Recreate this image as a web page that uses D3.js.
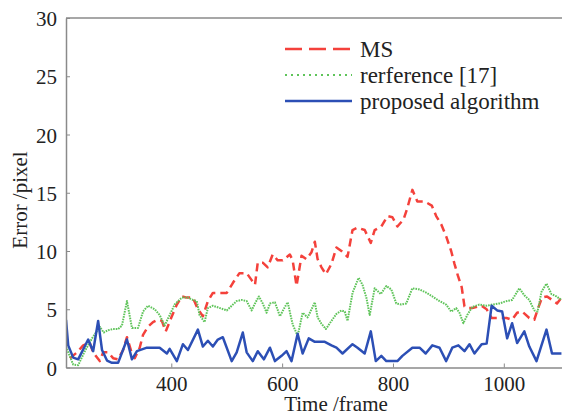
<!DOCTYPE html>
<html>
<head>
<meta charset="utf-8">
<script src="https://cdn.jsdelivr.net/npm/d3@7"></script>
<style>
  html, body { margin: 0; padding: 0; background: #fff; }
  svg { display: block; font-family: "Liberation Serif", "Times New Roman", serif; }
</style>
</head>
<body>
<div id="chart"></div>
<script>
// Series (frame, error in pixels)
const msFrames = [217, 230, 241, 253, 259, 271, 277, 286, 295, 304, 313, 320, 329, 334, 343, 349, 358, 367, 376, 383, 390, 401, 410, 419, 428, 439, 448, 457, 466, 475, 488, 500, 511, 523, 536, 545, 551, 556, 565, 574, 583, 592, 601, 614, 619, 626, 635, 644, 653, 659, 664, 671, 679, 689, 698, 707, 718, 727, 736, 749, 760, 767, 779, 790, 799, 808, 819, 826, 835, 844, 857, 870, 878, 887, 896, 905, 911, 917, 924, 929, 934, 943, 960, 969, 978, 992, 1005, 1015, 1024, 1033, 1046, 1055, 1062, 1069, 1078, 1087, 1096, 1104];
const msValues = [0.8, 1.3, 1.9, 2.1, 1.3, 0.55, 1.3, 1.3, 0.8, 0.7, 1.5, 2.6, 1.2, 0.8, 1.7, 2.8, 3.5, 3.9, 4.1, 4.0, 3.1, 4.4, 5.4, 6.1, 6.0, 6.0, 5.0, 4.4, 5.7, 6.4, 6.4, 6.4, 7.25, 8.1, 8.1, 7.5, 7.1, 9.0, 9.0, 8.6, 9.7, 9.2, 9.2, 9.7, 9.2, 7.0, 9.6, 9.3, 9.9, 10.8, 9.3, 8.6, 8.0, 8.9, 10.3, 10.0, 9.5, 11.8, 12.0, 11.8, 10.7, 11.8, 12.1, 13.0, 12.9, 12.1, 12.7, 13.7, 15.25, 14.25, 14.25, 13.9, 13.0, 12.3, 11.25, 10.0, 8.9, 7.9, 6.9, 5.25, 5.1, 5.1, 5.3, 5.0, 4.25, 4.25, 4.25, 4.1, 4.7, 4.8, 4.25, 4.1, 5.1, 6.0, 6.1, 5.8, 5.5, 6.0];

const refFrames = [210, 223, 232, 244, 257, 271, 278, 286, 295, 304, 311, 320, 329, 340, 349, 358, 370, 379, 388, 397, 406, 419, 430, 439, 446, 451, 460, 466, 475, 488, 500, 509, 518, 527, 536, 545, 551, 558, 565, 572, 578, 587, 596, 605, 610, 619, 628, 637, 646, 659, 664, 671, 679, 689, 698, 707, 713, 718, 727, 738, 745, 752, 758, 767, 778, 788, 797, 806, 815, 824, 835, 848, 861, 871, 884, 896, 905, 914, 920, 927, 934, 943, 956, 969, 979, 992, 1005, 1015, 1028, 1037, 1046, 1055, 1061, 1068, 1077, 1086, 1095, 1104];
const refValues = [1.8, 0.25, 0.2, 1.4, 2.5, 3.5, 3.0, 3.2, 3.3, 3.3, 3.6, 5.7, 3.4, 3.4, 4.8, 5.3, 5.0, 4.5, 3.6, 4.5, 5.4, 6.0, 6.0, 5.8, 5.7, 4.5, 3.9, 5.1, 5.3, 5.1, 4.9, 5.3, 5.7, 5.8, 5.7, 4.9, 5.5, 6.1, 5.5, 4.7, 5.5, 5.6, 4.4, 5.2, 5.6, 3.7, 2.7, 4.7, 4.3, 5.6, 4.3, 3.75, 3.3, 4.0, 4.6, 4.9, 4.8, 4.0, 6.4, 7.7, 7.1, 6.0, 4.5, 6.8, 6.3, 7.0, 6.7, 5.5, 5.4, 5.5, 6.8, 6.7, 6.4, 6.1, 5.7, 5.4, 4.8, 5.1, 4.7, 3.8, 4.5, 5.2, 5.4, 5.3, 5.4, 5.5, 5.7, 5.8, 6.8, 6.2, 5.8, 4.9, 4.8, 6.5, 7.2, 6.3, 6.1, 5.8];

const propFrames = [210, 214, 223, 232, 250, 259, 268, 275, 284, 293, 304, 320, 329, 338, 356, 379, 392, 397, 410, 421, 430, 448, 457, 466, 475, 484, 493, 509, 518, 529, 536, 547, 556, 567, 578, 587, 599, 608, 617, 628, 637, 648, 659, 677, 689, 698, 709, 727, 736, 749, 760, 769, 779, 788, 808, 817, 835, 848, 859, 871, 884, 896, 907, 918, 929, 938, 947, 960, 969, 978, 988, 997, 1006, 1015, 1024, 1037, 1046, 1059, 1077, 1087, 1104];
const propValues = [4.1, 1.9, 0.85, 0.7, 2.4, 1.4, 4.0, 1.5, 0.6, 0.4, 0.4, 2.4, 0.7, 1.4, 1.7, 1.7, 1.2, 1.6, 0.55, 2.0, 1.5, 3.25, 1.8, 2.3, 1.8, 2.4, 2.6, 0.55, 1.3, 3.0, 1.3, 0.55, 1.4, 0.7, 1.7, 0.55, 1.0, 1.4, 0.55, 2.9, 1.2, 2.5, 2.2, 2.2, 1.9, 1.7, 1.2, 2.0, 1.7, 1.2, 3.1, 0.55, 1.0, 0.55, 0.55, 1.0, 1.7, 1.7, 1.2, 1.9, 1.7, 0.55, 1.7, 1.9, 1.4, 2.0, 1.2, 2.0, 2.05, 5.3, 4.9, 4.8, 2.5, 3.8, 2.1, 3.1, 1.8, 0.55, 3.25, 1.2, 1.2];

const xTicks = [400, 600, 800, 1000];
const yTicks = [0, 5, 10, 15, 20, 25, 30];
const legendLabels = ['MS', 'rerference [17]', 'proposed algorithm'];

const width = 562;
const height = 415;
const axisColor = '#8a8a8a';

const svg = d3.select('#chart')
    .append('svg')
    .attr('width', width)
    .attr('height', height);

// Scales
const x = d3.scaleLinear().domain([210, 1105]).range([66, 562]);
const y = d3.scaleLinear().domain([0, 30]).range([367.5, 18]);

// Series definitions
const series = [
    { name: legendLabels[0], frames: msFrames, values: msValues, color: '#f4413b', width: 2.5, dash: '8,5', legendDash: '17,7' },
    { name: legendLabels[1], frames: refFrames, values: refValues, color: '#5fc45a', width: 2, dash: '1.6,1', legendDash: '2,4' },
    { name: legendLabels[2], frames: propFrames, values: propValues, color: '#2c4fb5', width: 2.5, dash: null, legendDash: null }
];

const line = d3.line()
    .x(d => x(d[0]))
    .y(d => y(d[1]));

svg.append('clipPath').attr('id', 'plot-clip')
    .append('rect')
    .attr('x', 66).attr('y', 18)
    .attr('width', width - 66).attr('height', 367.5 - 18 + 2);

// Data lines
svg.append('g')
    .attr('clip-path', 'url(#plot-clip)')
    .selectAll('path')
    .data(series)
    .join('path')
    .attr('d', s => line(s.frames.map((f, i) => [f, s.values[i]])))
    .attr('fill', 'none')
    .attr('stroke', s => s.color)
    .attr('stroke-width', s => s.width)
    .attr('stroke-linejoin', 'round')
    .attr('stroke-dasharray', s => s.dash);

// Axes (ticks pointing inward, MATLAB style)
const xAxis = svg.append('g')
    .attr('transform', `translate(0,${y(0)})`)
    .call(d3.axisBottom(x).tickValues(xTicks).tickFormat(d3.format('d'))
        .tickSizeInner(-4).tickSizeOuter(0).tickPadding(9));

const yAxis = svg.append('g')
    .attr('transform', `translate(${x(210)},0)`)
    .call(d3.axisLeft(y).tickValues(yTicks).tickFormat(d3.format('d'))
        .tickSizeInner(-4).tickSizeOuter(0).tickPadding(9));

[xAxis, yAxis].forEach(ax => {
    ax.select('.domain').attr('stroke', axisColor).attr('stroke-width', 1.5);
    ax.selectAll('.tick line').attr('stroke', axisColor);
    ax.selectAll('.tick text')
        .attr('fill', '#222')
        .style('font-family', '"Liberation Serif", serif')
        .style('font-size', '21px');
});
xAxis.selectAll('.tick text').attr('dy', '0.71em');
yAxis.selectAll('.tick text').attr('dy', '0.36em');

// Top border of the box
svg.append('line')
    .attr('x1', 66).attr('x2', width)
    .attr('y1', 18).attr('y2', 18)
    .attr('stroke', axisColor)
    .attr('stroke-width', 1.5);

// Axis titles
svg.append('text')
    .attr('x', 336)
    .attr('y', 411)
    .attr('text-anchor', 'middle')
    .attr('fill', '#222')
    .style('font-size', '21px')
    .text('Time /frame');

svg.append('text')
    .attr('transform', 'translate(27,200) rotate(-90)')
    .attr('text-anchor', 'middle')
    .attr('fill', '#222')
    .style('font-size', '21px')
    .text('Error /pixel');

// Legend
const legend = svg.append('g')
    .selectAll('g')
    .data(series)
    .join('g')
    .attr('transform', (d, i) => `translate(285,${49 + i * 26})`);

legend.append('line')
    .attr('x1', 0).attr('x2', 67)
    .attr('stroke', d => d.color)
    .attr('stroke-width', d => d.width)
    .attr('stroke-dasharray', d => d.legendDash);

legend.append('text')
    .attr('x', 75)
    .attr('dy', '0.35em')
    .attr('fill', '#222')
    .style('font-size', '23px')
    .text(d => d.name);
</script>
</body>
</html>
